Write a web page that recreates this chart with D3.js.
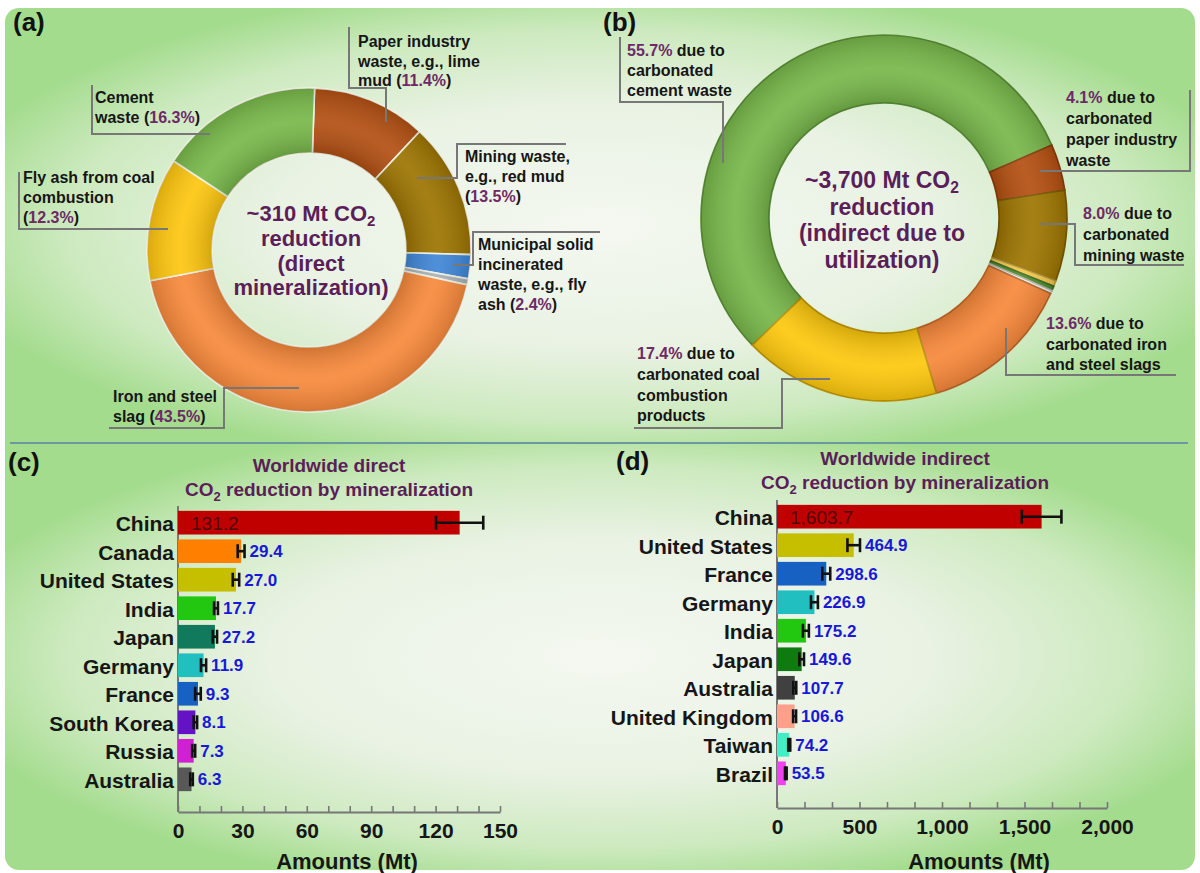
<!DOCTYPE html>
<html>
<head>
<meta charset="utf-8">
<script src="https://cdn.jsdelivr.net/npm/d3@7"></script>
<style>
  body { margin: 0; background: #fff; }
  text { font-family: "Liberation Sans", Arial, sans-serif; }
</style>
</head>
<body>
<script>
// (a) direct mineralization, shares in % (clockwise from top)
const directSources = ["Paper industry waste", "Mining waste", "Municipal solid incinerated waste", "Other",
  "Iron and steel slag", "Fly ash from coal combustion", "Cement waste"];
const directShares = [11.4, 13.5, 2.4, 0.6, 43.5, 12.3, 16.3];

// (b) indirect due to utilization
const indirectSources = ["Cement waste", "Paper industry waste", "Mining waste", "Other 1", "Other 2", "Other 3",
  "Iron and steel slags", "Coal combustion products"];
const indirectShares = [55.7, 4.1, 8.0, 0.5, 0.4, 0.3, 13.6, 17.4];

// (c) worldwide direct reduction
const directCountries = ["China", "Canada", "United States", "India", "Japan", "Germany", "France", "South Korea", "Russia", "Australia"];
const directAmounts = [131.2, 29.4, 27.0, 17.7, 17.2, 11.9, 9.3, 8.1, 7.3, 6.3];
const directErrors = [11, 1.6, 1.5, 0.9, 1.0, 1.2, 1.3, 0.8, 0.7, 0.6];
const directValueText = ["131.2", "29.4", "27.0", "17.7", "27.2", "11.9", "9.3", "8.1", "7.3", "6.3"];
const directTicks = [0, 30, 60, 90, 120, 150];

// (d) worldwide indirect reduction
const indirectCountries = ["China", "United States", "France", "Germany", "India", "Japan", "Australia", "United Kingdom", "Taiwan", "Brazil"];
const indirectAmounts = [1603.7, 464.9, 298.6, 226.9, 175.2, 149.6, 107.7, 106.6, 74.2, 53.5];
const indirectErrors = [120, 38, 24, 21, 18, 14, 9, 9, 6, 5];
const indirectValueText = ["1,603.7", "464.9", "298.6", "226.9", "175.2", "149.6", "107.7", "106.6", "74.2", "53.5"];
const indirectTicks = [0, 500, 1000, 1500, 2000];

const directColors = ["#b24f12", "#9c7400", "#3f86d6", "#a9b2b6", "#f7893b", "#fdc60f", "#78b84a"];
const indirectColors = ["#77b74a", "#b34f10", "#9d7500", "#f3c84a", "#4d8c2c", "#f1f1e2", "#f7883a", "#fdc80d"];
const directBarColors = ["#c00000", "#ff8000", "#c6bf00", "#22c810", "#127a5c", "#22bfc0", "#1661c2", "#6412c4", "#d21fd2", "#585858"];
const indirectBarColors = ["#c00000", "#c6bf00", "#1661c2", "#22bfc0", "#22c810", "#0f7a10", "#404040", "#ffa08a", "#40f0c4", "#ee44ee"];

const W = 1200, H = 873;
const purple = "#5b1e58", pctPurple = "#6d2a66", ink = "#161616", lineGrey = "#777";

const svg = d3.select("body").append("svg")
  .attr("width", W)
  .attr("height", H);

const defs = svg.append("defs");
const bg = defs.append("radialGradient").attr("id", "bg")
  .attr("cx", 0.5).attr("cy", 0.5).attr("r", 0.56);
bg.append("stop").attr("offset", 0).attr("stop-color", "#f4f8f1");
bg.append("stop").attr("offset", 0.5).attr("stop-color", "#e9f2e3");
bg.append("stop").attr("offset", 0.8).attr("stop-color", "#cdeabf");
bg.append("stop").attr("offset", 1).attr("stop-color", "#a4dc8e");

svg.append("clipPath").attr("id", "panel")
  .append("rect").attr("x", 5).attr("y", 8).attr("width", 1190).attr("height", 862).attr("rx", 14);

const back = svg.append("g").attr("clip-path", "url(#panel)");
back.append("rect").attr("x", 5).attr("y", 8).attr("width", 1190).attr("height", 436).attr("fill", "url(#bg)");
back.append("rect").attr("x", 5).attr("y", 444).attr("width", 1190).attr("height", 426).attr("fill", "url(#bg)");
svg.append("line")
  .attr("x1", 10).attr("x2", 1188).attr("y1", 443).attr("y2", 443)
  .attr("stroke", "#6a9aa0").attr("stroke-width", 2);

// panel letters
[["(a)", 13, 31], ["(b)", 603, 31], ["(c)", 8, 471], ["(d)", 616, 470]].forEach(([t, x, y]) => {
  svg.append("text").attr("x", x).attr("y", y).text(t)
    .attr("font-size", 26).attr("font-weight", "bold").attr("fill", "#111");
});

const fmtPct = d3.format(".1f");

function donut(cx, cy, r0, r1, shares, colors, startDeg, sep, id) {
  const a0 = startDeg * Math.PI / 180;
  const pie = d3.pie().sort(null).value(d => d).startAngle(a0).endAngle(a0 + 2 * Math.PI);
  const arc = d3.arc().innerRadius(r0).outerRadius(r1);
  const g = svg.append("g").attr("transform", `translate(${cx},${cy})`);
  g.selectAll("path.slice").data(pie(shares)).join("path")
    .attr("class", "slice")
    .attr("d", arc)
    .attr("fill", (d, i) => colors[i])
    .attr("stroke", (d, i) => sep || d3.color(colors[i]).darker(0.8))
    .attr("stroke-width", 1.6);
  // soft bevel over the ring
  const sh = defs.append("radialGradient").attr("id", id)
    .attr("gradientUnits", "userSpaceOnUse").attr("cx", 0).attr("cy", 0).attr("r", r1);
  sh.append("stop").attr("offset", r0 / r1).attr("stop-color", "#000").attr("stop-opacity", 0.16);
  sh.append("stop").attr("offset", (r0 / r1 + 1) / 2).attr("stop-color", "#fff").attr("stop-opacity", 0.08);
  sh.append("stop").attr("offset", 1).attr("stop-color", "#000").attr("stop-opacity", 0.14);
  g.append("path")
    .attr("d", d3.arc().innerRadius(r0).outerRadius(r1)({ startAngle: 0, endAngle: 2 * Math.PI }))
    .attr("fill", `url(#${id})`).attr("pointer-events", "none");
  return g;
}

function centerText(x, y0, step, size, lines) {
  lines.forEach((l, i) => {
    const t = svg.append("text").attr("x", x).attr("y", y0 + i * step)
      .attr("text-anchor", "middle").attr("font-size", size).attr("font-weight", "bold").attr("fill", purple);
    if (l.endsWith("CO2")) {
      t.append("tspan").text(l.slice(0, -1));
      t.append("tspan").text("2").attr("font-size", size * 0.68).attr("dy", size * 0.22);
    } else {
      t.text(l);
    }
  });
}

function label(spec, shares) {
  svg.append("polyline")
    .attr("points", spec.leader.map(p => p.join(",")).join(" "))
    .attr("fill", "none").attr("stroke", lineGrey).attr("stroke-width", 2);
  spec.lines.forEach((l, i) => {
    const t = svg.append("text").attr("x", spec.x).attr("y", spec.y + i * spec.lh)
      .attr("font-size", 16).attr("font-weight", "bold").attr("fill", ink);
    const parts = l.split("{p}");
    parts.forEach((p, k) => {
      if (p) t.append("tspan").text(p);
      if (k < parts.length - 1) t.append("tspan").attr("fill", pctPurple).text(fmtPct(shares[spec.i]) + "%");
    });
  });
}

// ---------- (a)
donut(309, 250, 97, 162, directShares, directColors, 2, "#f3f3e4", "shadeA");
centerText(311, 221, 24.8, 22, ["~310 Mt CO2", "reduction", "(direct", "mineralization)"]);

const directLabels = [
  { i: 6, x: 95, y: 103, lh: 20, lines: ["Cement", "waste ({p})"], leader: [[92, 85], [92, 134], [210, 134]] },
  { i: 0, x: 358, y: 47, lh: 19.5, lines: ["Paper industry", "waste, e.g., lime", "mud ({p})"], leader: [[349, 27], [349, 88], [386, 88], [386, 122]] },
  { i: 1, x: 465, y: 162, lh: 20, lines: ["Mining waste,", "e.g., red mud", "({p})"], leader: [[566, 144], [457, 144], [457, 178], [417, 178]] },
  { i: 2, x: 478, y: 250, lh: 20, lines: ["Municipal solid", "incinerated", "waste, e.g., fly", "ash ({p})"], leader: [[600, 232], [473, 232], [473, 265], [453, 265]] },
  { i: 5, x: 23, y: 183, lh: 20, lines: ["Fly ash from coal", "combustion", "({p})"], leader: [[19, 172], [19, 229], [168, 229]] },
  { i: 4, x: 113, y: 402, lh: 20, lines: ["Iron and steel", "slag ({p})"], leader: [[299, 388], [224, 388], [224, 428], [109, 428]] }
];
directLabels.forEach(s => label(s, directShares));

// ---------- (b)
donut(884, 218, 115, 183, indirectShares, indirectColors, -134, null, "shadeB");
centerText(882, 188, 26.6, 23, ["~3,700 Mt CO2", "reduction", "(indirect due to", "utilization)"]);

const indirectLabels = [
  { i: 0, x: 627, y: 56, lh: 20, lines: ["{p} due to", "carbonated", "cement waste"], leader: [[620, 37], [620, 102], [723, 102], [723, 163]] },
  { i: 1, x: 1066, y: 103, lh: 21, lines: ["{p} due to", "carbonated", "paper industry", "waste"], leader: [[1190, 90], [1190, 171], [1040, 171]] },
  { i: 2, x: 1083, y: 219, lh: 21, lines: ["{p} due to", "carbonated", "mining waste"], leader: [[1040, 224], [1075, 224], [1075, 265], [1184, 265]] },
  { i: 6, x: 1046, y: 329, lh: 20.5, lines: ["{p} due to", "carbonated iron", "and steel slags"], leader: [[1006, 328], [1006, 375], [1176, 375]] },
  { i: 7, x: 637, y: 359, lh: 20.8, lines: ["{p} due to", "carbonated coal", "combustion", "products"], leader: [[830, 379], [782, 379], [782, 428], [634, 428]] }
];
indirectLabels.forEach(s => label(s, indirectShares));

// ---------- bar panels
function bars(o) {
  const x = d3.scaleLinear().domain([0, o.max]).range([o.x0, o.x1]);
  const y = d3.scaleBand().domain(o.countries).range([o.yTop, o.yBot]).padding(0.17);
  const g = svg.append("g");

  const t1 = g.append("text").attr("x", o.titleX).attr("y", o.titleY)
    .attr("text-anchor", "middle").attr("font-size", 19).attr("font-weight", "bold").attr("fill", purple);
  t1.text(o.title);
  const t2 = g.append("text").attr("x", o.titleX).attr("y", o.titleY + 24)
    .attr("text-anchor", "middle").attr("font-size", 19).attr("font-weight", "bold").attr("fill", purple);
  t2.append("tspan").text("CO");
  t2.append("tspan").text("2").attr("font-size", 13).attr("dy", 5);
  t2.append("tspan").text(" reduction by mineralization").attr("dy", -5);

  // vertical axis line
  g.append("line").attr("x1", x(0)).attr("x2", x(0)).attr("y1", o.yTop).attr("y2", o.axisY)
    .attr("stroke", lineGrey).attr("stroke-width", 2);

  g.selectAll("rect.bar").data(o.amounts).join("rect")
    .attr("class", "bar")
    .attr("x", x(0))
    .attr("y", (d, i) => y(o.countries[i]))
    .attr("width", d => x(d) - x(0))
    .attr("height", y.bandwidth())
    .attr("fill", (d, i) => o.colors[i]);

  // error bars
  const cap = 14;
  o.amounts.forEach((d, i) => {
    const cy = y(o.countries[i]) + y.bandwidth() / 2;
    const e = o.errors[i];
    const eg = g.append("g").attr("stroke", "#111").attr("stroke-width", 2.6);
    eg.append("line").attr("x1", x(d - e)).attr("x2", x(d + e)).attr("y1", cy).attr("y2", cy);
    eg.append("line").attr("x1", x(d - e)).attr("x2", x(d - e)).attr("y1", cy - cap / 2).attr("y2", cy + cap / 2);
    eg.append("line").attr("x1", x(d + e)).attr("x2", x(d + e)).attr("y1", cy - cap / 2).attr("y2", cy + cap / 2);
  });

  // value labels
  g.selectAll("text.val").data(o.amounts).join("text")
    .attr("class", "val")
    .attr("x", (d, i) => i === 0 ? x(0) + 13 : x(d + o.errors[i]) + 5)
    .attr("y", (d, i) => y(o.countries[i]) + y.bandwidth() / 2)
    .attr("dy", "0.36em")
    .attr("font-size", (d, i) => i === 0 ? 19 : 17)
    .attr("font-weight", (d, i) => i === 0 ? "normal" : "bold")
    .attr("fill", (d, i) => i === 0 ? "#3a0707" : "#1818d8")
    .attr("fill-opacity", (d, i) => i === 0 ? 0.85 : 1)
    .text((d, i) => o.valueText[i]);

  // country labels
  const yAxis = g.append("g").attr("transform", `translate(${x(0) - 4},0)`)
    .call(d3.axisLeft(y).tickSize(0).tickPadding(0));
  yAxis.select(".domain").remove();
  yAxis.selectAll("text").attr("font-size", 21).attr("font-weight", "bold").attr("fill", ink)
    .attr("font-family", "'Liberation Sans', Arial, sans-serif").attr("dy", "0.4em");

  // x axis with minor ticks (3 per major)
  const step = o.ticks[1] / 3;
  const all = d3.range(Math.round(o.max / step) + 1).map(k => k * step);
  const xAxis = g.append("g").attr("transform", `translate(0,${o.axisY})`)
    .call(d3.axisBottom(x).tickValues(all).tickSize(-6).tickSizeOuter(0).tickPadding(11)
      .tickFormat((d, k) => k % 3 === 0 ? o.fmt(d) : ""));
  xAxis.select(".domain").attr("stroke", lineGrey).attr("stroke-width", 2);
  xAxis.selectAll(".tick line").attr("stroke", lineGrey).attr("stroke-width", 1.6);
  xAxis.selectAll("text").attr("font-size", 21).attr("font-weight", "bold").attr("fill", ink)
    .attr("font-family", "'Liberation Sans', Arial, sans-serif");

  g.append("text").attr("x", o.amtX).attr("y", 869).attr("text-anchor", "middle")
    .attr("font-size", 22).attr("font-weight", "bold").attr("fill", ink).text("Amounts (Mt)");
}

bars({
  countries: directCountries, amounts: directAmounts, errors: directErrors, valueText: directValueText,
  colors: directBarColors, ticks: directTicks, max: 150, fmt: d3.format("d"),
  x0: 178, x1: 500, yTop: 506, yBot: 796, axisY: 812,
  title: "Worldwide direct", titleX: 329, titleY: 472, amtX: 347
});

bars({
  countries: indirectCountries, amounts: indirectAmounts, errors: indirectErrors, valueText: indirectValueText,
  colors: indirectBarColors, ticks: indirectTicks, max: 2000, fmt: d3.format(","),
  x0: 777, x1: 1107, yTop: 500, yBot: 790, axisY: 808,
  title: "Worldwide indirect", titleX: 905, titleY: 465, amtX: 979
});
</script>
</body>
</html>
